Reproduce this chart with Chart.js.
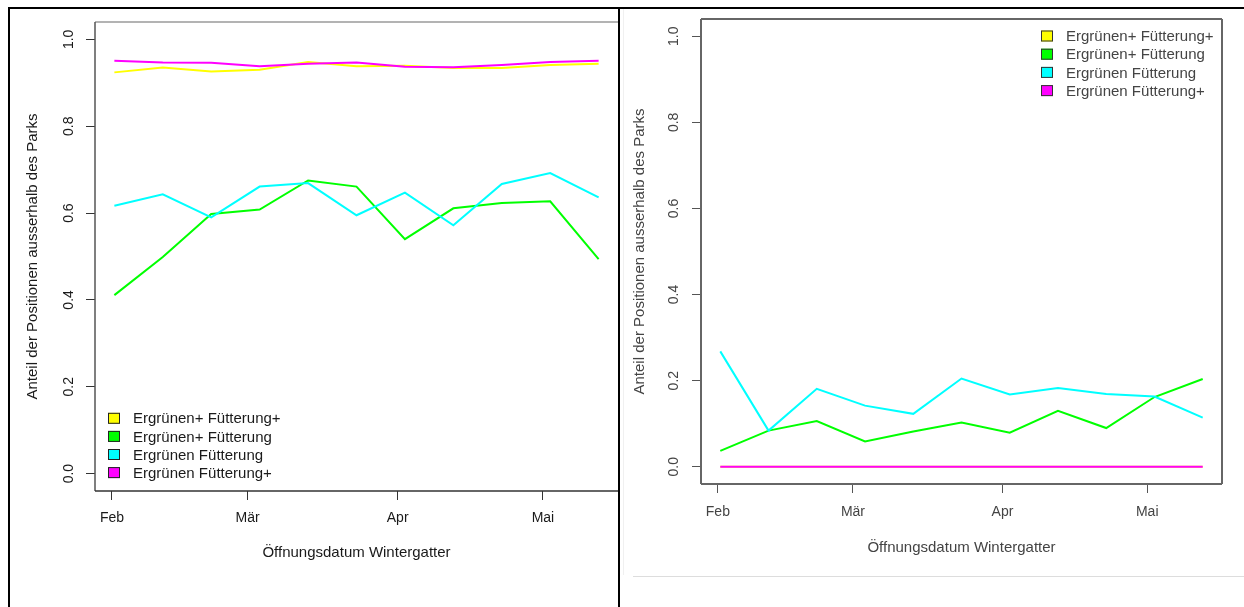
<!DOCTYPE html>
<html>
<head>
<meta charset="utf-8">
<script src="https://cdn.jsdelivr.net/npm/chart.js@4.4.1/dist/chart.umd.min.js"></script>
<style>
    html, body { margin: 0; padding: 0; background: #fff; }
    body { width: 1244px; height: 607px; position: relative; overflow: hidden; font-family: "Liberation Sans", Arial, sans-serif; }
    #frameLeft { position: absolute; left: 8px; top: 7px; width: 612px; height: 620px; box-sizing: border-box; border: 2px solid #000; border-bottom: none; }
    #lineTop { position: absolute; left: 620px; top: 7px; width: 624px; height: 2px; background: #000; }
    #lineSide { position: absolute; left: 623px; top: 9px; width: 1px; height: 566px; background: #f0f0f0; }
    #lineBottom { position: absolute; left: 633px; top: 576px; width: 611px; height: 1px; background: #ddd; }
    canvas { position: absolute; }
    #left { left: 10px; top: 8px; }
    #right { left: 622px; top: 8px; }
</style>
</head>
<body>
<div id="frameLeft"></div>
<div id="lineTop"></div>
<div id="lineSide"></div>
<div id="lineBottom"></div>
<canvas id="left" width="608" height="599"></canvas>
<canvas id="right" width="622" height="567"></canvas>
<script>
    // Opening dates (10-day steps) and month ticks
    var dates = ['2019-02-01', '2019-02-11', '2019-02-21', '2019-03-03', '2019-03-13', '2019-03-23',
        '2019-04-02', '2019-04-12', '2019-04-22', '2019-05-02', '2019-05-12']
    var monthStarts = ['2019-02-01', '2019-03-01', '2019-04-01', '2019-05-01']
    var monthLabels = ['Feb', 'Mär', 'Apr', 'Mai']
    var yTicks = [0, 0.2, 0.4, 0.6, 0.8, 1.0]

    var seriesLabels = ['Ergrünen+ Fütterung+', 'Ergrünen+ Fütterung', 'Ergrünen Fütterung', 'Ergrünen Fütterung+']
    var seriesColors = ['#ffff00', '#00ff00', '#00ffff', '#ff00ff']

    // left panel
    var leftYellow = [0.924, 0.935, 0.926, 0.930, 0.948, 0.938, 0.939, 0.934, 0.934, 0.941, 0.944]
    var leftGreen = [0.411, 0.499, 0.598, 0.608, 0.675, 0.661, 0.540, 0.611, 0.623, 0.627, 0.494]
    var leftCyan = [0.617, 0.643, 0.590, 0.661, 0.669, 0.595, 0.647, 0.572, 0.667, 0.692, 0.636]
    var leftMagenta = [0.951, 0.947, 0.946, 0.938, 0.944, 0.947, 0.937, 0.936, 0.941, 0.948, 0.951]

    // right panel
    var rightYellow = [0, 0, 0, 0, 0, 0, 0, 0, 0, 0, 0]
    var rightGreen = [0.037, 0.084, 0.106, 0.059, 0.082, 0.103, 0.079, 0.130, 0.090, 0.162, 0.204]
    var rightCyan = [0.268, 0.084, 0.181, 0.142, 0.123, 0.205, 0.168, 0.183, 0.169, 0.163, 0.114]
    var rightMagenta = [0, 0, 0, 0, 0, 0, 0, 0, 0, 0, 0]

    var origin = Date.UTC(2019, 1, 1)

    function dayOf(s, hour) {
        return (Date.parse(s + 'T00:00:00Z') - origin) / 864e5 + hour / 24
    }

    var FONT = '"Liberation Sans", Arial, sans-serif'

    // box around the plot region, each side its own colour
    var frame = {
        id: 'frame',
        afterDatasetsDraw: function(chart, args, o) {
            var a = chart.chartArea
            var ctx = chart.ctx
            ctx.save()
            ctx.lineWidth = o.width
            _.forEach([
                [o.top, a.left, a.top, a.right, a.top],
                [o.left, a.left, a.top, a.left, a.bottom],
                [o.bottom, a.left, a.bottom, a.right, a.bottom],
                [o.right, a.right, a.top, a.right, a.bottom]
            ], function(s) {
                if (!s[0]) return
                ctx.strokeStyle = s[0]
                ctx.beginPath()
                ctx.moveTo(s[1], s[2])
                ctx.lineTo(s[3], s[4])
                ctx.stroke()
            })
            ctx.restore()
        }
    }

    // R style legend: filled squares with dark border
    var boxLegend = {
        id: 'boxLegend',
        afterDraw: function(chart, args, o) {
            var a = chart.chartArea
            var ctx = chart.ctx
            var x = o.fromRight ? a.right - o.dx : a.left + o.dx
            var y = o.fromBottom ? a.bottom - o.dy : a.top + o.dy
            ctx.save()
            ctx.font = '15px ' + FONT
            ctx.textBaseline = 'middle'
            chart.data.datasets.forEach(function(ds, i) {
                var cy = y + i * o.step
                ctx.fillStyle = ds.borderColor
                ctx.fillRect(x, cy - 5.5, 12, 11)
                ctx.strokeStyle = o.boxBorder
                ctx.lineWidth = 1
                ctx.strokeRect(x + 0.5, cy - 5, 11, 10)
                ctx.fillStyle = o.color
                ctx.fillText(ds.label, x + 25, cy + 1)
            })
            ctx.restore()
        }
    }

    // tiny lodash stand-in
    var _ = { forEach: function(arr, fn) { arr.forEach(fn) } }

    function build(canvasId, values, look) {
        var datasets = values.map(function(v, k) {
            return {
                label: seriesLabels[k],
                data: dates.map(function(d, i) {
                    return { x: dayOf(d, 12), y: v[i] }
                }),
                borderColor: seriesColors[k],
                backgroundColor: seriesColors[k],
                borderWidth: 2,
                pointRadius: 0,
                tension: 0,
                order: values.length - k
            }
        })

        return new Chart(document.getElementById(canvasId), {
            type: 'line',
            data: { datasets: datasets },
            options: {
                responsive: false,
                animation: false,
                events: [],
                layout: { padding: look.padding },
                plugins: {
                    legend: { display: false },
                    tooltip: { enabled: false },
                    frame: look.frame,
                    boxLegend: look.legend
                },
                scales: {
                    x: {
                        type: 'linear',
                        min: -3.5,
                        max: 104.5,
                        border: { display: false },
                        grid: { drawOnChartArea: false, tickLength: 9, tickColor: look.tick, lineWidth: 1 },
                        afterBuildTicks: function(s) {
                            s.ticks = monthStarts.map(function(m) { return { value: dayOf(m, 0) } })
                        },
                        ticks: {
                            autoSkip: false,
                            maxRotation: 0,
                            padding: look.xPad,
                            color: look.text,
                            font: { family: FONT, size: 14 },
                            callback: function(v, i) { return monthLabels[i] }
                        },
                        title: {
                            display: true,
                            text: 'Öffnungsdatum Wintergatter',
                            color: look.text,
                            font: { family: FONT, size: 15 },
                            padding: { top: 0, bottom: look.xTitlePad }
                        },
                        afterFit: function(s) {
                            s.height = 75
                            s.paddingLeft = 0
                            s.paddingRight = 0
                        }
                    },
                    y: {
                        min: -0.04,
                        max: 1.04,
                        border: { display: false },
                        grid: { drawOnChartArea: false, tickLength: 9, tickColor: look.tick, lineWidth: 1 },
                        afterBuildTicks: function(s) {
                            s.ticks = yTicks.map(function(v) { return { value: v } })
                        },
                        ticks: {
                            minRotation: 90,
                            maxRotation: 90,
                            crossAlign: 'center',
                            padding: look.yPad,
                            color: look.text,
                            font: { family: FONT, size: 14 },
                            callback: function(v) { return v.toFixed(1) }
                        },
                        title: {
                            display: true,
                            text: 'Anteil der Positionen ausserhalb des Parks',
                            color: look.text,
                            font: { family: FONT, size: 15 },
                            padding: { top: look.yTitlePad, bottom: 0 }
                        },
                        afterFit: function(s) {
                            s.width = look.yWidth
                            s.paddingTop = 0
                            s.paddingBottom = 0
                        }
                    }
                }
            },
            plugins: [frame, boxLegend]
        })
    }

    build('left', [leftYellow, leftGreen, leftCyan, leftMagenta], {
        padding: { left: 0, top: 14, right: 0, bottom: 41 },
        yWidth: 85,
        yPad: 7.5,
        yTitlePad: 14,
        xPad: 10,
        xTitlePad: 4,
        text: '#1a1a1a',
        tick: '#333',
        frame: { width: 1.5, top: '#9a9a9a', left: '#555', bottom: '#333', right: null },
        legend: { dx: 13, dy: 72.7, fromBottom: true, fromRight: false, step: 18.1, color: '#1a1a1a', boxBorder: '#222' }
    })

    build('right', [rightYellow, rightGreen, rightCyan, rightMagenta], {
        padding: { left: 0, top: 11, right: 22, bottom: 16 },
        yWidth: 79,
        yPad: 8,
        yTitlePad: 9,
        xPad: 10.3,
        xTitlePad: 2,
        text: '#444',
        tick: '#555',
        frame: { width: 2, top: '#666', left: '#666', bottom: '#666', right: '#666' },
        legend: { dx: 181, dy: 17, fromBottom: false, fromRight: true, step: 18.2, color: '#444', boxBorder: '#333' }
    })
</script>
</body>
</html>
